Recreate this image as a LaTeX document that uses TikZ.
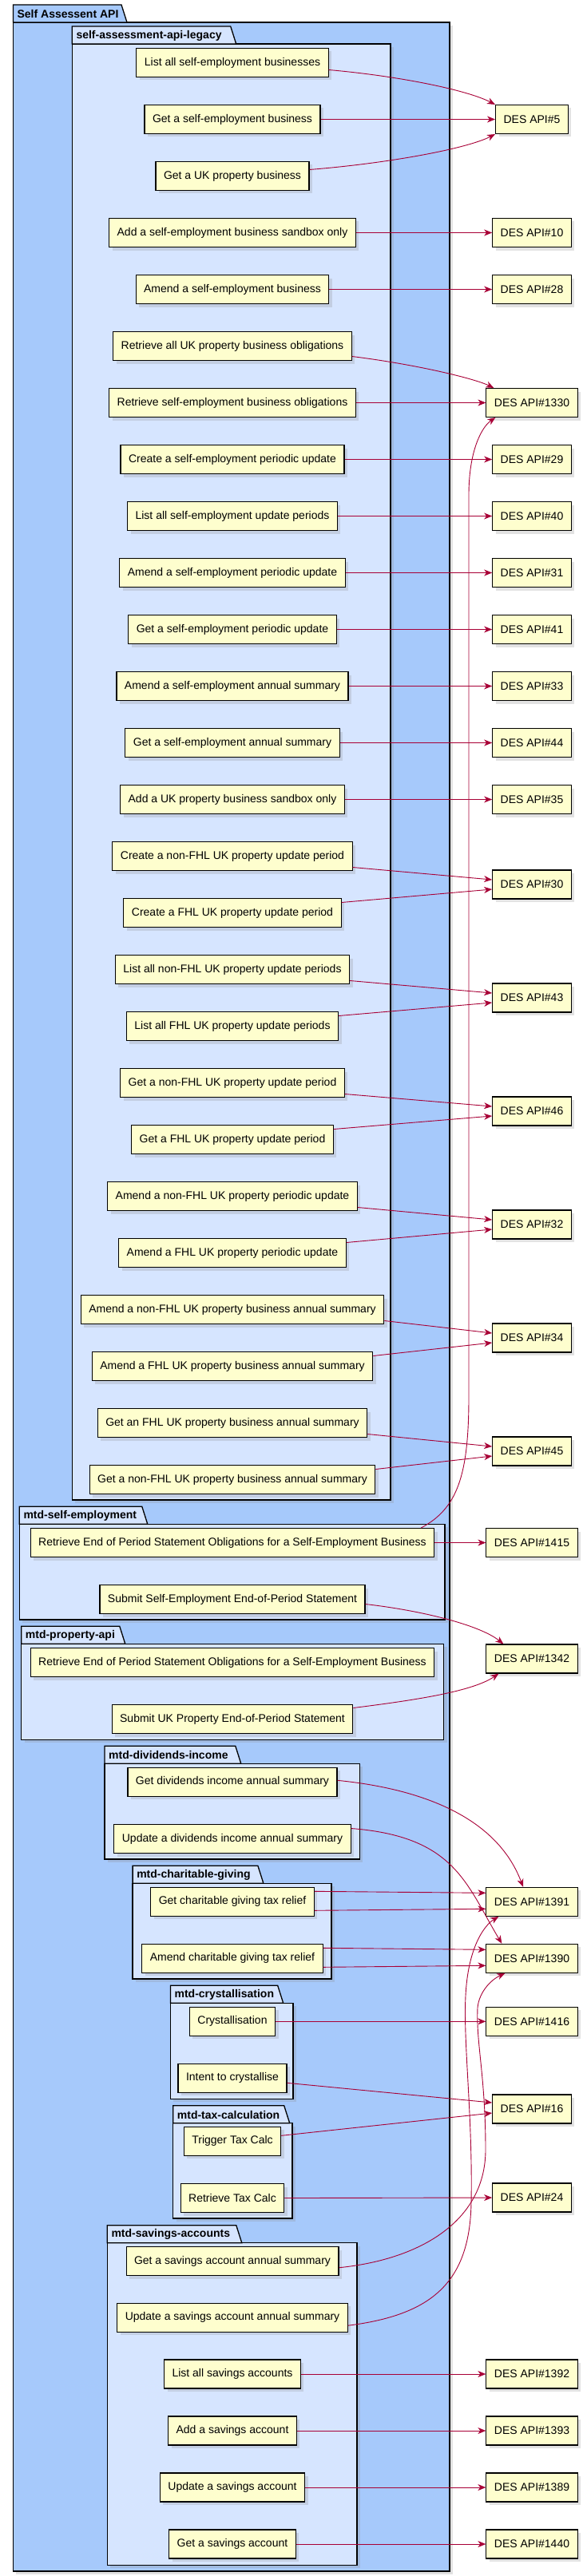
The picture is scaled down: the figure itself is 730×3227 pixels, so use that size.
\documentclass[tikz,border=0pt]{standalone}
\usepackage{fontspec}
\setmainfont{Liberation Sans}
\usetikzlibrary{arrows.meta,shadows}

\definecolor{pkgouter}{RGB}{166,201,251}
\definecolor{pkginner}{RGB}{214,229,255}
\definecolor{boxfill}{RGB}{254,254,206}
\definecolor{linkred}{RGB}{168,0,54}

\tikzset{
  dropsh/.style={drop shadow={shadow xshift=4pt,shadow yshift=-4pt,fill=black!45,opacity=.25}},
  api/.style={draw=black,fill=boxfill,line width=1.1pt,minimum height=36pt,inner xsep=10pt,font=\fontsize{14pt}{16pt}\selectfont,dropsh},
  dep/.style={draw=linkred,line width=0.9pt,->,>={Stealth[length=10pt,width=8pt,inset=3pt]}},
  pkgline/.style={draw=black,line width=1.3pt},
  pkglabel/.style={anchor=west,inner sep=0pt,font=\bfseries\fontsize{14pt}{16pt}\selectfont},
}

% package: name, left, tab top, tab right, right, bottom, fill, label
\newcommand{\pkgbox}[8]{%
  \filldraw[pkgline,dropsh,fill=#7] ({#2},{#3+22}) rectangle ({#5},{#6});
  \filldraw[pkgline,fill=#7] ({#2},{#3}) -- ({#4-7},{#3}) -- ({#4},{#3+22}) -- ({#2},{#3+22}) -- cycle;
  \node[pkglabel] (#1) at ({#2+5},{#3+11.5}) {#8};
}

\begin{document}
\begin{tikzpicture}[x=1pt,y=-1pt]
  \useasboundingbox (0,0) rectangle (730,3227);

  % packages
  \pkgbox{saapi}{16.4}{6}{159}{563}{3221}{pkgouter}{Self Assessent API}
  \pkgbox{legacy}{90.3}{33}{295.7}{489}{1879}{pkginner}{self-assessment-api-legacy}
  \pkgbox{selfemp}{24.3}{1887.3}{184.8}{556.9}{2029}{pkginner}{mtd-self-employment}
  \pkgbox{property}{26.7}{2037.3}{156.8}{555.5}{2179.3}{pkginner}{mtd-property-api}
  \pkgbox{dividends}{131}{2187.3}{301.8}{450.2}{2329}{pkginner}{mtd-dividends-income}
  \pkgbox{charity}{166.1}{2337.3}{329.9}{415.1}{2479}{pkginner}{mtd-charitable-giving}
  \pkgbox{crystal}{213.4}{2487.3}{354.7}{366.9}{2629.3}{pkginner}{mtd-crystallisation}
  \pkgbox{taxcalc}{216.7}{2637.7}{362.7}{365.9}{2779}{pkginner}{mtd-tax-calculation}
  \pkgbox{savings}{134.3}{2787.7}{302.8}{446.9}{3213.3}{pkginner}{mtd-savings-accounts}

  % legacy endpoints
  \node[api] (l1) at (291,78.5) {List all self-employment businesses};
  \node[api] (l2) at (291,149.5) {Get a self-employment business};
  \node[api] (l3) at (291,220.5) {Get a UK property business};
  \node[api] (l4) at (291,291.5) {Add a self-employment business sandbox only};
  \node[api] (l5) at (291,362.5) {Amend a self-employment business};
  \node[api] (l6) at (291,433.5) {Retrieve all UK property business obligations};
  \node[api] (l7) at (291,504.5) {Retrieve self-employment business obligations};
  \node[api] (l8) at (291,575.5) {Create a self-employment periodic update};
  \node[api] (l9) at (291,646.5) {List all self-employment update periods};
  \node[api] (l10) at (291,717.5) {Amend a self-employment periodic update};
  \node[api] (l11) at (291,788.5) {Get a self-employment periodic update};
  \node[api] (l12) at (291,859.5) {Amend a self-employment annual summary};
  \node[api] (l13) at (291,930.5) {Get a self-employment annual summary};
  \node[api] (l14) at (291,1001.5) {Add a UK property business sandbox only};
  \node[api] (l15) at (291,1072.5) {Create a non-FHL UK property update period};
  \node[api] (l16) at (291,1143.5) {Create a FHL UK property update period};
  \node[api] (l17) at (291,1214.5) {List all non-FHL UK property update periods};
  \node[api] (l18) at (291,1285.5) {List all FHL UK property update periods};
  \node[api] (l19) at (291,1356.5) {Get a non-FHL UK property update period};
  \node[api] (l20) at (291,1427.5) {Get a FHL UK property update period};
  \node[api] (l21) at (291,1498.5) {Amend a non-FHL UK property periodic update};
  \node[api] (l22) at (291,1569.5) {Amend a FHL UK property periodic update};
  \node[api] (l23) at (291,1640.5) {Amend a non-FHL UK property business annual summary};
  \node[api] (l24) at (291,1711.5) {Amend a FHL UK property business annual summary};
  \node[api] (l25) at (291,1782.5) {Get an FHL UK property business annual summary};
  \node[api] (l26) at (291,1853.5) {Get a non-FHL UK property business annual summary};

  % mtd endpoints
  \node[api] (se1) at (291,1932.5) {Retrieve End of Period Statement Obligations for a Self-Employment Business};
  \node[api] (se2) at (291,2003.5) {Submit Self-Employment End-of-Period Statement};
  \node[api] (pr1) at (291,2082.5) {Retrieve End of Period Statement Obligations for a Self-Employment Business};
  \node[api] (pr2) at (291,2153.5) {Submit UK Property End-of-Period Statement};
  \node[api] (dv1) at (291,2232.3) {Get dividends income annual summary};
  \node[api] (dv2) at (291,2303.5) {Update a dividends income annual summary};
  \node[api] (cg1) at (291,2382.3) {Get charitable giving tax relief};
  \node[api] (cg2) at (291,2453.3) {Amend charitable giving tax relief};
  \node[api] (cr1) at (291,2532.3) {Crystallisation};
  \node[api] (cr2) at (291,2603.3) {Intent to crystallise};
  \node[api] (tc1) at (291,2682.3) {Trigger Tax Calc};
  \node[api] (tc2) at (291,2753.5) {Retrieve Tax Calc};
  \node[api] (sa1) at (291,2832.7) {Get a savings account annual summary};
  \node[api] (sa2) at (291,2903.2) {Update a savings account annual summary};
  \node[api] (sa3) at (291,2974) {List all savings accounts};
  \node[api] (sa4) at (291,3045) {Add a savings account};
  \node[api] (sa5) at (291,3116) {Update a savings account};
  \node[api] (sa6) at (291,3187) {Get a savings account};

  % DES APIs
  \node[api] (d5) at (666,149.5) {DES API\#5};
  \node[api] (d10) at (666,291.5) {DES API\#10};
  \node[api] (d28) at (666,362.5) {DES API\#28};
  \node[api] (d1330) at (666,504.5) {DES API\#1330};
  \node[api] (d29) at (666,575.5) {DES API\#29};
  \node[api] (d40) at (666,646.5) {DES API\#40};
  \node[api] (d31) at (666,717.5) {DES API\#31};
  \node[api] (d41) at (666,788.5) {DES API\#41};
  \node[api] (d33) at (666,859.5) {DES API\#33};
  \node[api] (d44) at (666,930.5) {DES API\#44};
  \node[api] (d35) at (666,1001.5) {DES API\#35};
  \node[api] (d30) at (666,1108) {DES API\#30};
  \node[api] (d43) at (666,1250) {DES API\#43};
  \node[api] (d46) at (666,1392) {DES API\#46};
  \node[api] (d32) at (666,1534) {DES API\#32};
  \node[api] (d34) at (666,1676) {DES API\#34};
  \node[api] (d45) at (666,1818) {DES API\#45};
  \node[api] (d1415) at (666,1932.5) {DES API\#1415};
  \node[api] (d1342) at (666,2078) {DES API\#1342};
  \node[api] (d1391) at (666,2382.3) {DES API\#1391};
  \node[api] (d1390) at (666,2453.3) {DES API\#1390};
  \node[api] (d1416) at (666,2532.3) {DES API\#1416};
  \node[api] (d16) at (666,2642) {DES API\#16};
  \node[api] (d24) at (666,2753) {DES API\#24};
  \node[api] (d1392) at (666,2974) {DES API\#1392};
  \node[api] (d1393) at (666,3045) {DES API\#1393};
  \node[api] (d1389) at (666,3116) {DES API\#1389};
  \node[api] (d1440) at (666,3187) {DES API\#1440};

  % legacy links
  \draw[dep] ([yshift=-9pt]l1.east) .. controls +(90,8) and +(-35,-18) .. (d5.north west);
  \draw[dep] (l2.east) -- (d5.west);
  \draw[dep] ([yshift=8pt]l3.east) .. controls +(100,-8) and +(-35,18) .. (d5.south west);
  \draw[dep] (l4.east) -- (d10.west);
  \draw[dep] (l5.east) -- (d28.west);
  \draw[dep] ([yshift=-13pt]l6.east) .. controls +(80,10) and +(-25,-12) .. ([xshift=10pt]d1330.north west);
  \draw[dep] (l7.east) -- (d1330.west);
  \draw[dep] (l8.east) -- (d29.west);
  \draw[dep] (l9.east) -- (d40.west);
  \draw[dep] (l10.east) -- (d31.west);
  \draw[dep] (l11.east) -- (d41.west);
  \draw[dep] (l12.east) -- (d33.west);
  \draw[dep] (l13.east) -- (d44.west);
  \draw[dep] (l14.east) -- (d35.west);
  \draw[dep] ([yshift=-14pt]l15.east) -- ([yshift=6pt]d30.west);
  \draw[dep] ([yshift=13pt]l16.east) -- ([yshift=-6pt]d30.west);
  \draw[dep] ([yshift=-14pt]l17.east) -- ([yshift=6pt]d43.west);
  \draw[dep] ([yshift=13pt]l18.east) -- ([yshift=-6pt]d43.west);
  \draw[dep] ([yshift=-14pt]l19.east) -- ([yshift=6pt]d46.west);
  \draw[dep] ([yshift=13pt]l20.east) -- ([yshift=-6pt]d46.west);
  \draw[dep] ([yshift=-14pt]l21.east) -- ([yshift=6pt]d32.west);
  \draw[dep] ([yshift=13pt]l22.east) -- ([yshift=-6pt]d32.west);
  \draw[dep] ([yshift=-14pt]l23.east) -- ([yshift=6pt]d34.west);
  \draw[dep] ([yshift=13pt]l24.east) -- ([yshift=-6pt]d34.west);
  \draw[dep] ([yshift=-14pt]l25.east) -- ([yshift=6pt]d45.west);
  \draw[dep] ([yshift=13pt]l26.east) -- ([yshift=-6pt]d45.west);

  % mtd links
  \draw[dep] (se1.east) -- (d1415.west);
  \draw[dep] ([xshift=-17pt]se1.north east) .. controls (572,1890) and (587,1850) .. (587,1750)
    -- (587,620) .. controls (587,565) and (603,535) .. ([xshift=12pt]d1330.south west);
  \draw[dep] ([yshift=-6pt]se2.east) .. controls +(70,8) and +(-30,-24) .. ([xshift=22pt]d1342.north west);
  \draw[dep] ([yshift=14pt]pr2.east) .. controls +(80,-10) and +(-32,22) .. ([xshift=16pt]d1342.south west);
  \draw[dep] ([yshift=2pt]dv1.east) .. controls +(120,12) and +(-30,-80) .. ([xshift=-11pt]d1391.north);
  \draw[dep] ([yshift=13pt]dv2.east) .. controls +(130,10) and +(-45,-75) .. ([xshift=20pt]d1390.north west);
  \draw[dep] ([yshift=13pt]cg1.east) -- ([yshift=11pt]d1391.west);
  \draw[dep] ([yshift=-11pt]cg1.east) -- ([yshift=-9pt]d1391.west);
  \draw[dep] ([yshift=13pt]cg2.east) -- ([yshift=11pt]d1390.west);
  \draw[dep] ([yshift=-11pt]cg2.east) -- ([yshift=-9pt]d1390.west);
  \draw[dep] (cr1.east) -- (d1416.west);
  \draw[dep] ([yshift=-6pt]cr2.east) -- ([yshift=8pt]d16.west);
  \draw[dep] ([yshift=7pt]tc1.east) -- ([yshift=-5pt]d16.west);
  \draw[dep] (tc2.east) -- (d24.west);
  \draw[dep] ([yshift=-8pt]sa1.east) .. controls (530,2830) and (608,2780) .. (608,2693)
    .. controls (608,2600) and (596,2560) .. (598,2515) .. controls (600,2495) and (615,2480) .. ([xshift=24pt]d1390.south west);
  \draw[dep] ([yshift=-10pt]sa2.east) .. controls (540,2900) and (588,2860) .. (590,2760)
    .. controls (592,2650) and (580,2560) .. (583,2500) .. controls (586,2440) and (606,2412) .. ([xshift=16pt]d1391.south west);
  \draw[dep] (sa3.east) -- (d1392.west);
  \draw[dep] (sa4.east) -- (d1393.west);
  \draw[dep] (sa5.east) -- (d1389.west);
  \draw[dep] (sa6.east) -- (d1440.west);
\end{tikzpicture}
\end{document}
